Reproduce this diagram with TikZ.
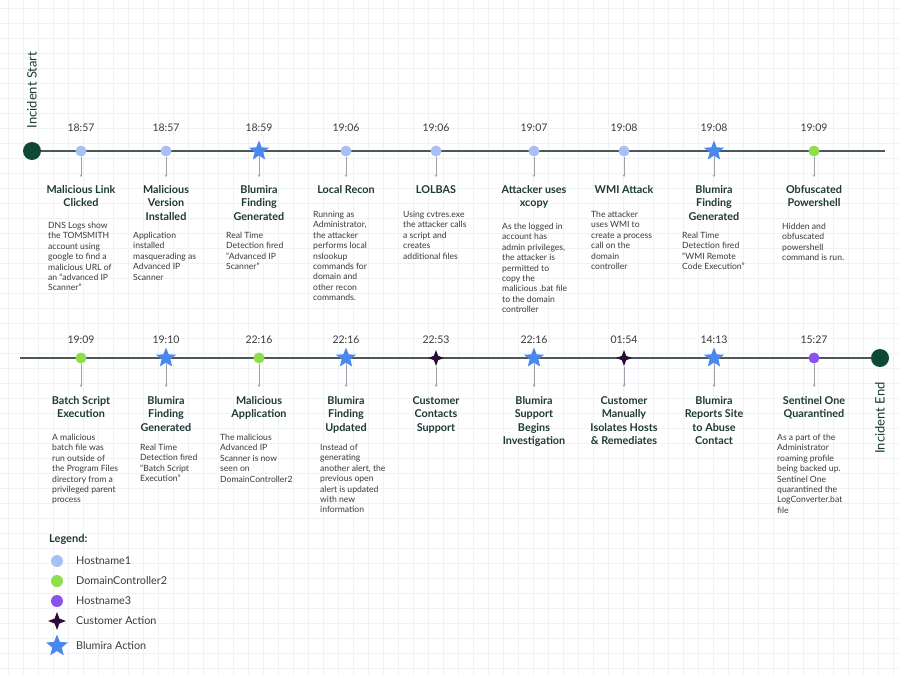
\documentclass[tikz,border=0pt]{standalone}
\usepackage{fontspec}
\setmainfont{Lato}
\usetikzlibrary{shapes.geometric,arrows.meta}
\definecolor{gridc}{HTML}{F0F2F5}
\definecolor{linec}{HTML}{4A5858}
\definecolor{darkg}{HTML}{0E4A33}
\definecolor{titlec}{HTML}{1E3A34}
\definecolor{textc}{HTML}{3A3A3A}
\definecolor{hostA}{HTML}{A9C1F2}
\definecolor{hostB}{HTML}{8EDD4A}
\definecolor{hostC}{HTML}{8A52EE}
\definecolor{custc}{HTML}{2A0E36}
\definecolor{blumc}{HTML}{4A88EE}
\definecolor{arrc}{HTML}{9CA3A8}
\begin{document}
\begin{tikzpicture}[x=1pt,y=-1pt,
  hA/.style={circle,fill=hostA,minimum size=11pt,inner sep=0pt},
  hB/.style={circle,fill=hostB,minimum size=11pt,inner sep=0pt},
  hC/.style={circle,fill=hostC,minimum size=11pt,inner sep=0pt},
  bstar/.style={star,star points=5,star point ratio=2.3,fill=blumc,minimum size=21pt,inner sep=0pt},
  cstar/.style={star,star points=4,star point ratio=2.6,fill=custc,minimum size=16pt,inner sep=0pt},
  endpt/.style={circle,fill=darkg,minimum size=18pt,inner sep=0pt},
  conn/.style={draw=arrc,line width=0.7pt,-{Stealth[length=2.5pt,width=2.5pt]}},
  tline/.style={draw=linec,line width=1.2pt},
  timel/.style={font=\fontsize{10.5}{12}\selectfont,text=textc,inner sep=0pt},
  ttl/.style={font=\fontsize{10.8}{13.5}\selectfont\bfseries,text=titlec,align=center,anchor=north,inner sep=0pt},
  desc/.style={font=\fontsize{8.6}{10.4}\selectfont,text=textc,align=left,anchor=north west,inner sep=0pt},
  vlab/.style={font=\fontsize{13}{15}\selectfont,text=titlec,rotate=90,inner sep=0pt},
  legt/.style={font=\fontsize{11}{13}\selectfont\bfseries,text=titlec,anchor=west,inner sep=0pt},
  legi/.style={font=\fontsize{10.8}{13}\selectfont,text=textc,anchor=west,inner sep=0pt}
]
\fill[white] (0,0) rectangle (900,675);
\useasboundingbox (0,0) rectangle (900,675);
\foreach \i in {0,...,59} {
  \draw[gridc,line width=0.5pt] (8+15*\i,0) -- (8+15*\i,675);
}
\foreach \i in {0,...,44} {
  \draw[gridc,line width=0.5pt] (0,8+15*\i) -- (900,8+15*\i);
}

% ---------- top row ----------
\node[endpt] (start) at (32,151) {};
\coordinate (topend) at (885,151);
\draw[tline] (start) -- (topend);
\node[vlab] (startlab) at (32,90) {Incident Start};

\node[hA] (a1) at (81,151) {};
\node[hA] (a2) at (166,151) {};
\node[bstar] (a3) at (259,151) {};
\node[hA] (a4) at (346,151) {};
\node[hA] (a5) at (436,151) {};
\node[hA] (a6) at (534,151) {};
\node[hA] (a7) at (624,151) {};
\node[bstar] (a8) at (714,151) {};
\node[hB] (a9) at (814,151) {};

\foreach \n/\x/\t in {1/81/18:57,2/166/18:57,3/259/18:59,4/346/19:06,5/436/19:06,6/534/19:07,7/624/19:08,8/714/19:08,9/814/19:09} {
  \node[timel] (at\n) at (\x,128) {\t};
  \coordinate (ae\n) at (\x,177);
  \draw[conn] (a\n) -- (ae\n);
}

\node[ttl] (ta1) at (81,185) {Malicious Link\\Clicked};
\node[ttl] (ta2) at (166,185) {Malicious\\Version\\Installed};
\node[ttl] (ta3) at (259,185) {Blumira\\Finding\\Generated};
\node[ttl] (ta4) at (346,185) {Local Recon};
\node[ttl] (ta5) at (436,185) {LOLBAS};
\node[ttl] (ta6) at (534,185) {Attacker uses\\xcopy};
\node[ttl] (ta7) at (624,185) {WMI Attack};
\node[ttl] (ta8) at (714,185) {Blumira\\Finding\\Generated};
\node[ttl] (ta9) at (814,185) {Obfuscated\\Powershell};

\node[desc] (da1) at (48,222) {DNS Logs show\\the TOMSMITH\\account using\\google to find a\\malicious URL of\\an “advanced IP\\Scanner”};
\node[desc] (da2) at (133,232) {Application\\installed\\masquerading as\\Advanced IP\\Scanner};
\node[desc] (da3) at (226,232) {Real Time\\Detection fired\\“Advanced IP\\Scanner”};
\node[desc] (da4) at (313,211) {Running as\\Administrator,\\the attacker\\performs local\\nslookup\\commands for\\domain and\\other recon\\commands.};
\node[desc] (da5) at (403,211) {Using cvtres.exe\\the attacker calls\\a script and\\creates\\additional files};
\node[desc] (da6) at (502,223) {As the logged in\\account has\\admin privileges,\\the attacker is\\permitted to\\copy the\\malicious .bat file\\to the domain\\controller};
\node[desc] (da7) at (591,211) {The attacker\\uses WMI to\\create a process\\call on the\\domain\\controller};
\node[desc] (da8) at (682,232) {Real Time\\Detection fired\\“WMI Remote\\Code Execution”};
\node[desc] (da9) at (782,223) {Hidden and\\obfuscated\\powershell\\command is run.};

% ---------- bottom row ----------
\coordinate (botstart) at (20,358);
\node[endpt] (finish) at (880,358) {};
\draw[tline] (botstart) -- (finish);
\node[vlab] (endlab) at (880,418) {Incident End};

\node[hB] (b1) at (81,358) {};
\node[bstar] (b2) at (166,358) {};
\node[hB] (b3) at (259,358) {};
\node[bstar] (b4) at (346,358) {};
\node[cstar] (b5) at (436,358) {};
\node[bstar] (b6) at (534,358) {};
\node[cstar] (b7) at (624,358) {};
\node[bstar] (b8) at (714,358) {};
\node[hC] (b9) at (814,358) {};

\foreach \n/\x/\t in {1/81/19:09,2/166/19:10,3/259/22:16,4/346/22:16,5/436/22:53,6/534/22:16,7/624/01:54,8/714/14:13,9/814/15:27} {
  \node[timel] (bt\n) at (\x,340) {\t};
  \coordinate (be\n) at (\x,387);
  \draw[conn] (b\n) -- (be\n);
}

\node[ttl] (tb1) at (81,396) {Batch Script\\Execution};
\node[ttl] (tb2) at (166,396) {Blumira\\Finding\\Generated};
\node[ttl] (tb3) at (259,396) {Malicious\\Application};
\node[ttl] (tb4) at (346,396) {Blumira\\Finding\\Updated};
\node[ttl] (tb5) at (436,396) {Customer\\Contacts\\Support};
\node[ttl] (tb6) at (534,396) {Blumira\\Support\\Begins\\Investigation};
\node[ttl] (tb7) at (624,396) {Customer\\Manually\\Isolates Hosts\\\& Remediates};
\node[ttl] (tb8) at (714,396) {Blumira\\Reports Site\\to Abuse\\Contact};
\node[ttl] (tb9) at (814,396) {Sentinel One\\Quarantined};

\node[desc] (db1) at (52,434) {A malicious\\batch file was\\run outside of\\the Program Files\\directory from a\\privileged parent\\process};
\node[desc] (db2) at (140,444) {Real Time\\Detection fired\\“Batch Script\\Execution”};
\node[desc] (db3) at (220,434) {The malicious\\Advanced IP\\Scanner is now\\seen on\\DomainController2};
\node[desc] (db4) at (320,444) {Instead of\\generating\\another alert, the\\previous open\\alert is updated\\with new\\information};
\node[desc] (db9) at (777,434) {As a part of the\\Administrator\\roaming profile\\being backed up.\\Sentinel One\\quarantined the\\LogConverter.bat\\file};

% ---------- legend ----------
\node[legt] (legtitle) at (49,539) {Legend:};
\node[hA,minimum size=12pt] (l1) at (57,561) {};
\node[hB,minimum size=12pt] (l2) at (57,581) {};
\node[hC,minimum size=12pt] (l3) at (57,601) {};
\node[cstar,minimum size=18pt] (l4) at (57,621) {};
\node[bstar,minimum size=23pt] (l5) at (57,646) {};
\node[legi] (lt1) at (76,561) {Hostname1};
\node[legi] (lt2) at (76,581) {DomainController2};
\node[legi] (lt3) at (76,601) {Hostname3};
\node[legi] (lt4) at (76,621) {Customer Action};
\node[legi] (lt5) at (76,646) {Blumira Action};
\end{tikzpicture}
\end{document}
